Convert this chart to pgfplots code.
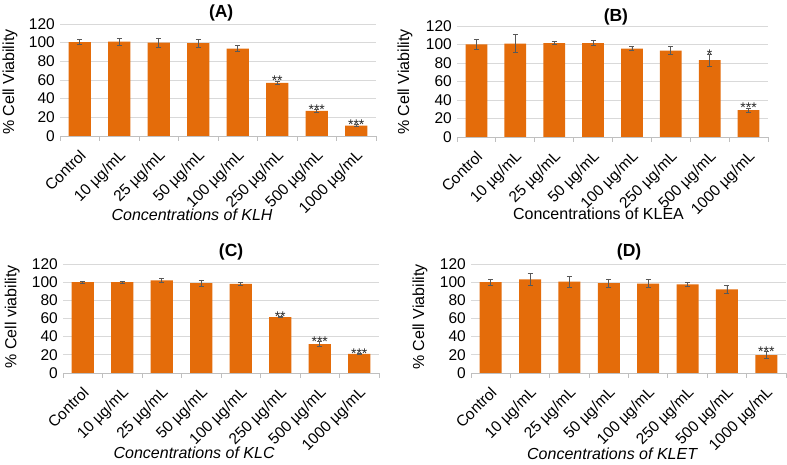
\documentclass[border=0pt]{standalone}
\usepackage{pgfplots}
\pgfplotsset{compat=1.18}
\usepackage{pgfplotstable}
\usepackage{fontspec}
\setmainfont{Liberation Sans}
\definecolor{barorange}{HTML}{E46C0A}
\definecolor{gridgray}{HTML}{D9D9D9}
\definecolor{axgray}{HTML}{BFBFBF}
\definecolor{errgray}{HTML}{595959}

\pgfplotstableread{
x y e
0 100.5 2.7
1 101 3.6
2 100 5
3 99.5 4.4
4 93.5 3.3
5 57 2
6 27 1.5
7 11 1
}\dataA
\pgfplotstableread{
x y e
0 100 5.5
1 101 9.5
2 101.5 1.5
3 101.5 2.7
4 95.5 2
5 93.5 4.5
6 83 6.3
7 29 2.5
}\dataB
\pgfplotstableread{
x y e
0 100 1
1 100 1
2 102 2.7
3 99 3.5
4 98 1.5
5 61.5 0.7
6 31.8 3
7 21 1
}\dataC
\pgfplotstableread{
x y e
0 100 3
1 103 7
2 100.5 6
3 99 4.5
4 98.5 4.5
5 97.5 2
6 92 4.5
7 19.8 3.5
}\dataD

\pgfplotsset{
  every axis title shift=0pt,
  panel/.style={
    scale only axis,
    /pgf/number format/assume math mode=true,
    ymin=0, ymax=120, ytick={0,20,...,120},
    xmin=-0.5, xmax=7.5,
    xtick={0,...,7},
    xticklabels={Control,10 µg/mL,25 µg/mL,50 µg/mL,100 µg/mL,250 µg/mL,500 µg/mL,1000 µg/mL},
    minor xtick={-0.5,0.5,...,7.5},
    axis x line*=bottom, axis y line*=left,
    y axis line style={draw=none},
    x axis line style={axgray, line width=0.8pt, -},
    major tick length=0pt,
    minor tick length=5pt,
    tick align=outside,
    minor x tick style={axgray, line width=0.8pt},
    ymajorgrids, grid style={gridgray, line width=0.8pt},
    tick label style={font=\fontsize{15.5}{17}\selectfont},
    yticklabel style={inner sep=2pt, xshift=-3pt},
    xticklabel style={xshift=-1pt, yshift=-11pt, rotate=45, anchor=north east, inner sep=1pt},
    label style={font=\fontsize{16}{18}\selectfont},
    ylabel style={anchor=center},
    xlabel style={anchor=center},
    title style={font=\fontsize{17.5}{19}\selectfont\bfseries, anchor=center, yshift=0pt},
    clip=false,
  },
  bars/.style={ybar, bar width=0.56, fill=barorange, draw=none,
    error bars/.cd, y dir=both, y explicit,
    error bar style={errgray, line width=0.7pt},
    error mark options={rotate=90, mark size=2.5pt, errgray, line width=0.7pt}},
  stars/.style={only marks, mark=none, point meta=explicit symbolic,
    nodes near coords,
    every node near coord/.append style={font=\fontsize{14}{14}\selectfont, anchor=base, yshift=-5pt, inner sep=0pt, text=black!85}},
}

\begin{document}
\begin{tikzpicture}
\useasboundingbox (0,0) rectangle (787pt,465pt);
% (A)
\begin{axis}[panel, at={(60pt,329pt)}, anchor=south west, width=316pt, height=112pt,
  title={(A)}, title style={at={(axis description cs:0.51,1.098)}},
  ylabel={\% Cell Viability}, ylabel style={at={(axis description cs:-0.158,0.48)}},
  xlabel={\itshape Concentrations of KLH}, xlabel style={at={(axis description cs:0.418,-0.705)}}]
\addplot[bars] table[x=x, y=y, y error=e] {\dataA};
\addplot[stars] coordinates {(5,59) [**] (6,28.5) [***] (7,12) [***]};
\end{axis}
% (B)
\begin{axis}[panel, at={(457pt,328pt)}, anchor=south west, width=311pt, height=111pt,
  title={(B)}, title style={at={(axis description cs:0.511,1.081)}},
  ylabel={\% Cell Viability}, ylabel style={at={(axis description cs:-0.167,0.495)}},
  xlabel={Concentrations of KLEA}, xlabel style={at={(axis description cs:0.455,-0.689)}}]
\addplot[bars] table[x=x, y=y, y error=e] {\dataB};
\addplot[stars] coordinates {(6,89.3) [*] (7,31.5) [***]};
\end{axis}
% (C)
\begin{axis}[panel, at={(63pt,92pt)}, anchor=south west, width=316pt, height=109pt,
  title={(C)}, title style={at={(axis description cs:0.532,1.11)}},
  ylabel={\% Cell viability}, ylabel style={at={(axis description cs:-0.161,0.514)}},
  xlabel={\itshape Concentrations of KLC}, xlabel style={at={(axis description cs:0.415,-0.734)}}]
\addplot[bars] table[x=x, y=y, y error=e] {\dataC};
\addplot[stars] coordinates {(5,62.2) [**] (6,34.8) [***] (7,22) [***]};
\end{axis}
% (D)
\begin{axis}[panel, at={(471pt,92pt)}, anchor=south west, width=315pt, height=109pt,
  title={(D)}, title style={at={(axis description cs:0.502,1.11)}},
  ylabel={\% Cell Viability}, ylabel style={at={(axis description cs:-0.162,0.514)}},
  xlabel={\itshape Concentrations of KLET}, xlabel style={at={(axis description cs:0.448,-0.743)}}]
\addplot[bars] table[x=x, y=y, y error=e] {\dataD};
\addplot[stars] coordinates {(7,23.3) [***]};
\end{axis}
\end{tikzpicture}
\end{document}
